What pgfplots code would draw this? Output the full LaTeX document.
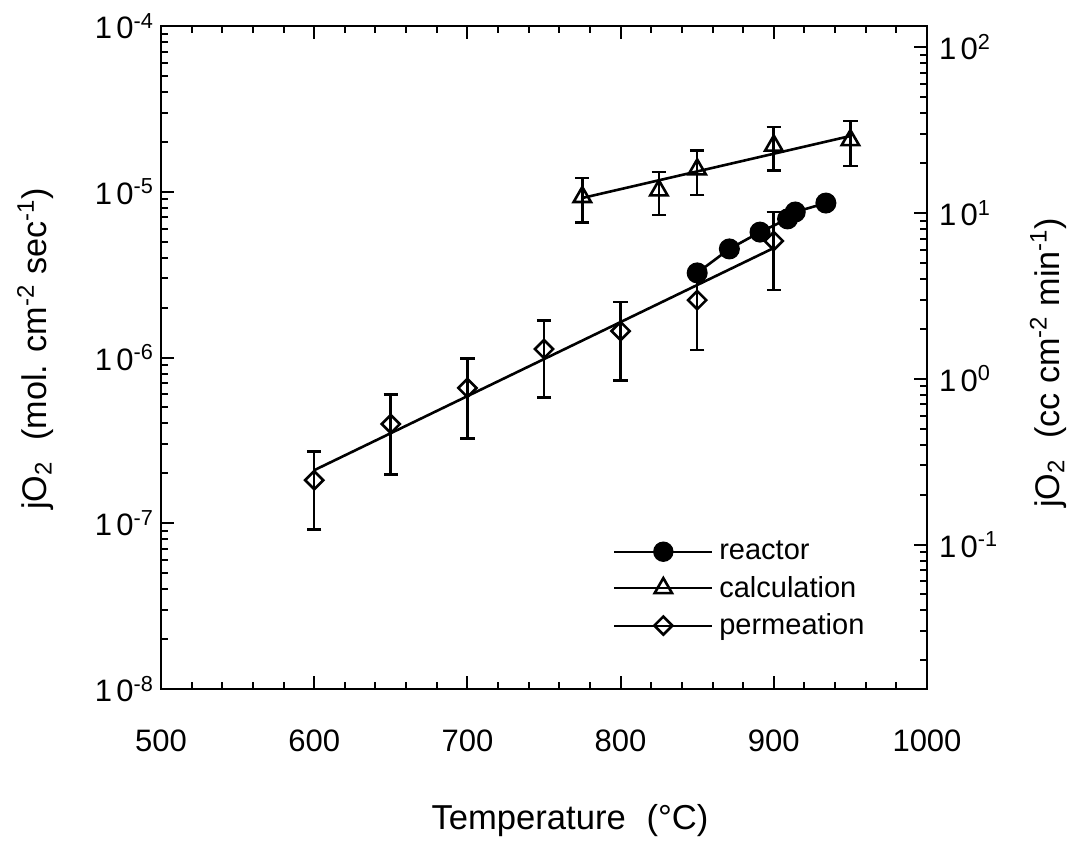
\documentclass[border=0pt]{standalone}
\usepackage{fontspec}
\setmainfont{Liberation Sans}
\usepackage{pgfplots}
\pgfplotsset{compat=1.18}
\newcommand{\tl}[1]{1\hspace{0.14em}0\textsuperscript{#1}}
\pgfplotsset{
  common/.style={
    at={(0pt,0pt)}, anchor=south west, scale only axis,
    width=383pt, height=331.5pt,
    xmin=500, xmax=1000,
    tick align=inside,
    major tick length=6.5pt, minor tick length=3.5pt,
    axis line style={line width=1.3pt},
    every tick/.style={black, line width=1pt},
    ticklabel style={font=\fontsize{15.5}{18}\selectfont},
  },
  ebar/.style={error bars/.cd, y dir=both, y explicit,
    error bar style={line width=1.3pt},
    error mark options={rotate=90, line width=1.3pt, mark size=3.6pt}},
  diam/.style={mark=square, mark size=3.2pt, mark options={rotate=45, fill=white, line width=1.3pt}},
  tri/.style={mark=triangle, mark size=5pt, mark options={fill=white, line width=1.3pt}},
  circ/.style={mark=*, mark size=4.6pt},
}
\begin{document}
\begin{tikzpicture}
\useasboundingbox (-80.5pt,-76pt) rectangle (460.5pt,344.5pt);
\begin{axis}[common, ymode=log,
  ymin=1e-8, ymax=1e-4,
  xtick={500,600,700,800,900,1000},
  xticklabels={500,600,700,800,900,1000},
  minor x tick num=4,
  xtick pos=both, ytick pos=left,
  xticklabel style={yshift=-17pt},
  ytick={1e-8,1e-7,1e-6,1e-5,1e-4},
  yticklabels={\tl{-8},\tl{-7},\tl{-6},\tl{-5},\tl{-4}},
  minor ytick={2e-8,3e-8,4e-8,5e-8,6e-8,7e-8,8e-8,9e-8,
               2e-7,3e-7,4e-7,5e-7,6e-7,7e-7,8e-7,9e-7,
               2e-6,3e-6,4e-6,5e-6,6e-6,7e-6,8e-6,9e-6,
               2e-5,3e-5,4e-5,5e-5,6e-5,7e-5,8e-5,9e-5},
  xlabel={Temperature\hspace{0.6em}(°C)},
  ylabel={jO\textsubscript{2}\hspace{0.6em}(mol. cm\textsuperscript{-2} sec\textsuperscript{-1})},
  every axis x label/.style={at={(axis description cs:0.534,-0.198)}, anchor=center, font=\fontsize{17.3}{20}\selectfont},
  every axis y label/.style={at={(axis description cs:-0.164,0.513)}, anchor=center, rotate=90, font=\fontsize{17.1}{20}\selectfont},
  legend style={draw=none, fill=none, inner sep=0pt,
    font=\fontsize{14.5}{17}\selectfont,
    at={(axis cs:795,4e-8)}, anchor=west, row sep=2.75pt,
    /tikz/every even column/.style={column sep=0pt},
    nodes={inner xsep=3pt}},
  legend cell align=left,
  legend image code/.code={\draw[mark repeat=2,mark phase=2,#1] plot coordinates {(-1pt,0pt) (23.5pt,0pt) (48pt,0pt)};},
]
% permeation with error bars
\addplot[forget plot, black, only marks, diam, ebar]
  coordinates {
  (600,1.82e-7) +- (0,0.90e-7)
  (650,3.97e-7) +- (0,2.0e-7)
  (700,6.55e-7) +- (0,3.3e-7)
  (750,1.125e-6) +- (0,5.5e-7)
  (800,1.445e-6) +- (0,7.2e-7)
  (850,2.22e-6) +- (0,1.11e-6)
  (900,5.05e-6) +- (0,2.5e-6)
  };
% permeation fit line
\addplot[forget plot, black, line width=1.3pt] coordinates {(600,2.09e-7) (900,4.58e-6)};
% calculation
\addplot[forget plot, black, only marks, tri, ebar]
  coordinates {
  (775,9.3e-6) +- (0,2.8e-6)
  (825,1.02e-5) +- (0,2.95e-6)
  (850,1.364e-5) +- (0,4.1e-6)
  (900,1.9e-5) +- (0,5.6e-6)
  (950,2.05e-5) +- (0,6.2e-6)
  };
\addplot[forget plot, black, line width=1.3pt] coordinates {(775,9.17e-6) (950,2.17e-5)};
% reactor
\addplot[forget plot, black, line width=1.3pt, circ] coordinates {
  (850,3.24e-6) (871,4.52e-6) (891,5.71e-6) (909,6.86e-6) (914,7.55e-6) (934,8.55e-6)
  };
\addlegendimage{black, line width=1pt, circ}
\addlegendentry{reactor}
\addlegendimage{black, line width=1pt, tri}
\addlegendentry{calculation}
\addlegendimage{black, line width=1pt, diam}
\addlegendentry{permeation}
\end{axis}
\begin{axis}[common, ymode=log,
  ymin=0.01344, ymax=134.4,
  axis x line=none, axis y line*=right,
  ytick={0.1,1,10,100},
  yticklabels={\tl{-1},\tl{0},\tl{1},\tl{2}},
  yticklabel style={xshift=2.5pt},
  minor ytick={0.02,0.03,0.04,0.05,0.06,0.07,0.08,0.09,
               0.2,0.3,0.4,0.5,0.6,0.7,0.8,0.9,
               2,3,4,5,6,7,8,9,
               20,30,40,50,60,70,80,90},
  ylabel={jO\textsubscript{2}\hspace{0.6em}(cc cm\textsuperscript{-2} min\textsuperscript{-1})},
  every axis y label/.style={at={(axis description cs:1.158,0.492)}, anchor=center, rotate=90, font=\fontsize{17.1}{20}\selectfont},
]
\addplot[draw=none] coordinates {(500,1)};
\end{axis}
\end{tikzpicture}
\end{document}
